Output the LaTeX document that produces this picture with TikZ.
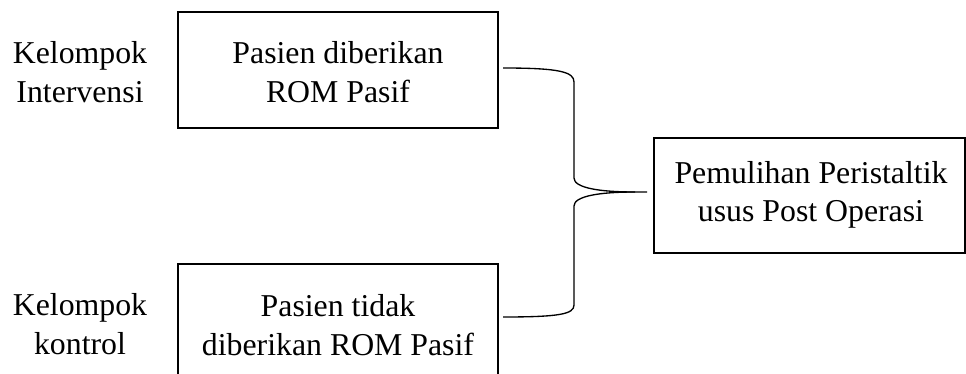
\documentclass[tikz,border=0pt]{standalone}
\usepackage{fontspec}
\setmainfont{Liberation Serif}
\begin{document}
\begin{tikzpicture}[x=0.75pt,y=-0.75pt,
  box/.style={draw=black,line width=0.9pt,minimum width=#1*0.75pt,inner sep=0pt},
  lbl/.style={align=center,font=\fontsize{23.85}{28.9}\selectfont,inner sep=0pt},
  brace/.style={draw=black,line width=1pt}]
\clip (0,0) rectangle (966,374);
\fill[white] (0,0) rectangle (966,374);
\node[box=320,minimum height=116*0.75pt] (b1) at (338,70) {};
\node[box=320,minimum height=116*0.75pt] (b2) at (338,322) {};
\node[box=311,minimum height=115*0.75pt] (b3) at (809.5,195.5) {};
\node[lbl] (t1) at (338,72) {Pasien diberikan\\ROM Pasif};
\node[lbl] (t2) at (338,325) {Pasien tidak\\diberikan ROM Pasif};
\node[lbl] (t3) at (811,195) {Pemulihan Peristaltik\\usus Post Operasi};
\node[lbl] (l1) at (80,72) {Kelompok\\Intervensi};
\node[lbl] (l2) at (80,324) {Kelompok\\kontrol};
\coordinate (bt) at (503,68);
\coordinate (bb) at (503,317);
\coordinate (tip) at (635,192);
\coordinate (tipend) at (647,192);
\draw[brace] (bt) .. controls (560,68) and (574,72) .. (574,82) -- (574,178)
  .. controls (574,188) and (600,192) .. (tip) -- (tipend);
\draw[brace] (tip) .. controls (600,192) and (574,196) .. (574,206) -- (574,305)
  .. controls (574,314) and (560,317) .. (bb);
\end{tikzpicture}
\end{document}
